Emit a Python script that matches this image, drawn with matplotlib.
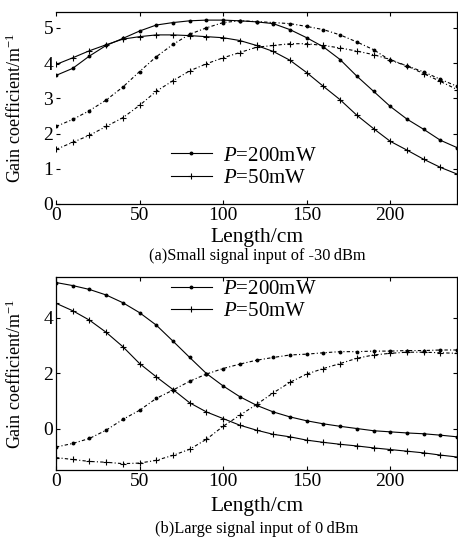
import matplotlib
matplotlib.use("Agg")
import matplotlib.pyplot as plt
import numpy as np

plt.rcParams['font.family'] = ['Liberation Serif', 'DejaVu Serif']
plt.rcParams['mathtext.fontset'] = 'custom'
plt.rcParams['mathtext.it'] = 'Liberation Serif:italic'
plt.rcParams['mathtext.rm'] = 'Liberation Serif'

length_cm = list(range(0, 250, 10))

# (a) small signal input of -30 dBm
a_200_solid = [3.65, 3.85, 4.2, 4.5, 4.7, 4.91, 5.08, 5.15, 5.2, 5.22, 5.22, 5.2, 5.17, 5.12, 4.95,
               4.72, 4.46, 4.1, 3.63, 3.2, 2.77, 2.41, 2.12, 1.81, 1.6]
a_50_solid = [3.96, 4.15, 4.35, 4.52, 4.68, 4.75, 4.8, 4.8, 4.78, 4.75, 4.72, 4.64, 4.5, 4.33, 4.08,
              3.73, 3.34, 2.96, 2.52, 2.14, 1.78, 1.53, 1.27, 1.04, 0.85]
a_200_dash = [2.2, 2.4, 2.65, 2.95, 3.32, 3.76, 4.18, 4.53, 4.82, 5.0, 5.15, 5.2, 5.18, 5.15, 5.12,
              5.04, 4.95, 4.8, 4.6, 4.38, 4.08, 3.92, 3.75, 3.54, 3.34]
a_50_dash = [1.55, 1.75, 1.95, 2.2, 2.45, 2.8, 3.2, 3.5, 3.78, 3.98, 4.15, 4.3, 4.45, 4.5, 4.55,
             4.55, 4.5, 4.43, 4.34, 4.24, 4.1, 3.92, 3.7, 3.48, 3.25]

# (b) large signal input of 0 dBm
b_200_solid = [5.28, 5.17, 5.03, 4.83, 4.55, 4.19, 3.74, 3.16, 2.57, 1.99, 1.54, 1.15, 0.84, 0.6, 0.42,
               0.28, 0.17, 0.08, 0.0, -0.08, -0.12, -0.16, -0.19, -0.24, -0.3]
b_50_solid = [4.53, 4.26, 3.92, 3.48, 2.96, 2.35, 1.87, 1.41, 0.93, 0.6, 0.36, 0.12, -0.06, -0.21, -0.3,
              -0.42, -0.5, -0.57, -0.63, -0.7, -0.76, -0.82, -0.88, -0.96, -1.03]
b_200_dash = [-0.67, -0.54, -0.36, -0.06, 0.33, 0.66, 1.09, 1.39, 1.71, 1.97, 2.17, 2.33, 2.47, 2.57, 2.66,
              2.69, 2.74, 2.78, 2.78, 2.8, 2.8, 2.82, 2.82, 2.84, 2.84]
b_50_dash = [-1.05, -1.12, -1.19, -1.22, -1.27, -1.25, -1.15, -0.97, -0.75, -0.39, 0.08, 0.48, 0.87, 1.29, 1.67,
             1.97, 2.17, 2.35, 2.54, 2.66, 2.72, 2.76, 2.76, 2.74, 2.72]

legend_labels = ['$P$=200mW', '$P$=50mW']
xlabel = 'Length/cm'
ylabel = 'Gain coefficient/m$^{\\mathregular{-1}}$'
caption_a = '(a)Small signal input of -30\u2009dBm'
caption_b = '(b)Large signal input of 0\u2009dBm'

W, H = 458, 539
fig = plt.figure(figsize=(W / 100, H / 100), dpi=100)

lw = 0.8
dash_style = (0, (3, 2, 1, 2))
TICK_FS = 14
LAB_FS = 15.5
LEG_FS = 15
CAP_FS = 11.8
Y_FS = 13


def style_axes(ax, yticks, ylim):
    ax.set_xlim(0, 240)
    ax.set_ylim(*ylim)
    ax.set_xticks([0, 50, 100, 150, 200])
    ax.set_yticks(yticks)
    ax.tick_params(direction='in', top=True, right=True, length=3, width=0.8,
                   labelsize=TICK_FS, pad=2)
    for s in ax.spines.values():
        s.set_linewidth(0.9)


def draw(ax, s200, s50, d200, d50):
    l1, = ax.plot(length_cm, s200, '-', color='k', lw=lw, marker='o', ms=1.8)
    l2, = ax.plot(length_cm, s50, '-', color='k', lw=lw, marker='+', ms=5, mew=0.8)
    ax.plot(length_cm, d200, linestyle=dash_style, color='k', lw=lw, marker='o', ms=1.8)
    ax.plot(length_cm, d50, linestyle=dash_style, color='k', lw=lw, marker='+', ms=5, mew=0.8)
    return l1, l2


x_left = 56
x_center = (x_left + W) / 2 / W
ylab_x = (25 - x_left) / (W - x_left)

# top panel
ax1 = fig.add_axes([x_left / W, 1 - 204 / H, (W - x_left) / W - 0.002, (204 - 12) / H])
style_axes(ax1, [0, 1, 2, 3, 4, 5], (0, 5.45))
ax1.spines['left'].set_visible(False)
h1, h2 = draw(ax1, a_200_solid, a_50_solid, a_200_dash, a_50_dash)
ax1.legend([h1, h2], legend_labels, loc='upper left', bbox_to_anchor=(0.265, 0.345),
           frameon=False, fontsize=LEG_FS, handlelength=2.0, handletextpad=0.5,
           labelspacing=0.15, borderaxespad=0)
ax1.set_ylabel(ylabel, fontsize=Y_FS)
ax1.yaxis.set_label_coords(ylab_x, 0.5)
fig.text(x_center, 1 - 238 / H, xlabel, ha='center', va='center', fontsize=LAB_FS)
fig.text(x_center, 1 - 256 / H, caption_a, ha='center', va='center', fontsize=CAP_FS)

# bottom panel
ax2 = fig.add_axes([x_left / W, 1 - 470 / H, (W - x_left) / W - 0.002, (470 - 277) / H])
style_axes(ax2, [0, 2, 4], (-1.5, 5.48))
h1, h2 = draw(ax2, b_200_solid, b_50_solid, b_200_dash, b_50_dash)
ax2.legend([h1, h2], legend_labels, loc='upper left', bbox_to_anchor=(0.265, 1.03),
           frameon=False, fontsize=LEG_FS, handlelength=2.0, handletextpad=0.5,
           labelspacing=0.1, borderaxespad=0)
ax2.set_ylabel(ylabel, fontsize=Y_FS)
ax2.yaxis.set_label_coords(ylab_x, 0.5)
fig.text(x_center, 1 - 507 / H, xlabel, ha='center', va='center', fontsize=LAB_FS)
fig.text(x_center, 1 - 529 / H, caption_b, ha='center', va='center', fontsize=CAP_FS)

fig.savefig('out.png', dpi=100)
